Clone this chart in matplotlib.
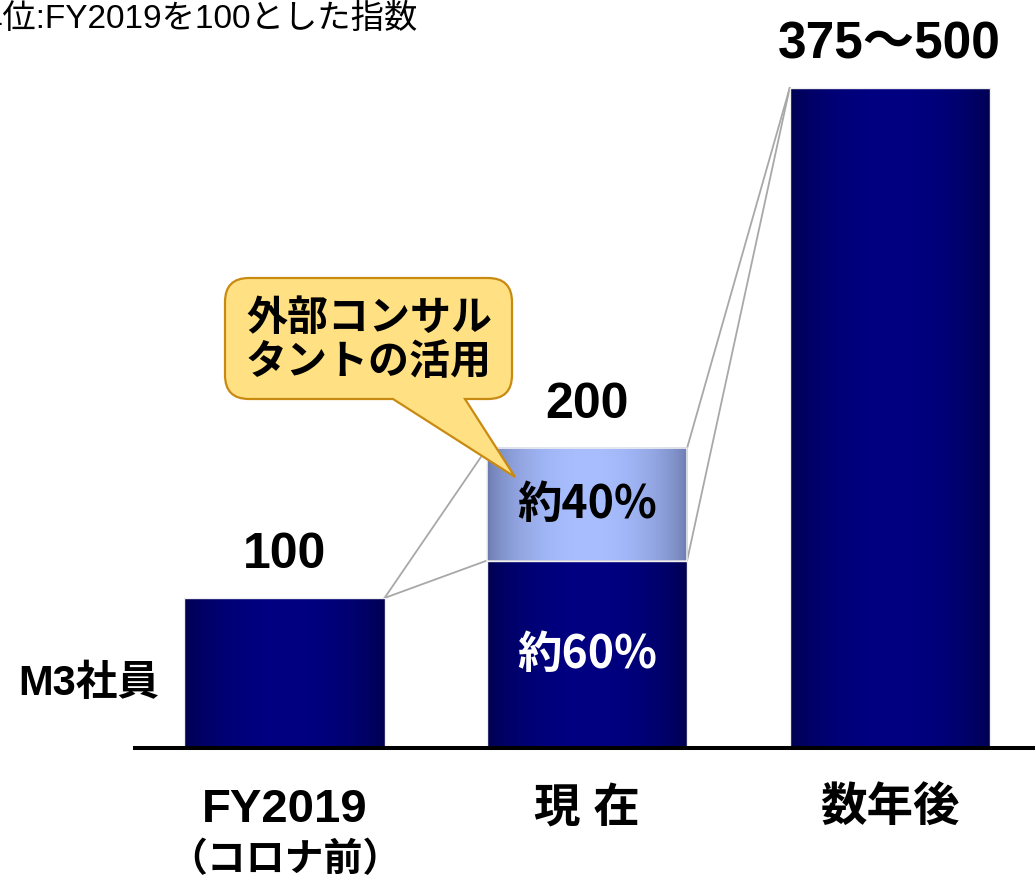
import numpy as np
import matplotlib
matplotlib.use('Agg')
import matplotlib.pyplot as plt
from matplotlib.path import Path
from matplotlib.patches import PathPatch

plt.rcParams['font.family'] = ['Liberation Sans', 'Noto Sans CJK JP']

# ---- data ----
categories = ['FY2019', '現 在', '数年後']
sub_label = '（コロナ前）'
m3_staff = [100, 125, 440]
consultants = [0, 75, 0]
value_labels = ['100', '200', '375～500']
share_labels = ['約60%', '約40%']
callout_lines = ['外部コンサル', 'タントの活用']
unit_note = '単位:FY2019を100とした指数'
row_label = 'M3社員'

W, H = 1035, 878
fig = plt.figure(figsize=(W / 100, H / 100), dpi=100)
ax = fig.add_axes([0, 0, 1, 1])
ax.axis('off')

x = np.arange(len(categories))
bw = 0.661
tot = [a + b for a, b in zip(m3_staff, consultants)]

dark_edge = np.array([0x00, 0x00, 0x4c]) / 255
dark_center = np.array([0x00, 0x00, 0x82]) / 255
light_edge = np.array([0x68, 0x76, 0xa8]) / 255
light_center = np.array([0xa8, 0xbe, 0xff]) / 255


def gradient(patch, edge, center):
    bx, by = patch.get_x(), patch.get_y()
    w, h = patch.get_width(), patch.get_height()
    t = np.linspace(0, 1, 300)
    f = np.sin(np.pi * t) ** 0.6
    cols = edge[None, :] + (center - edge)[None, :] * f[:, None]
    ax.imshow(cols[None, :, :], extent=[bx, bx + w, by, by + h], aspect='auto',
              interpolation='bilinear', zorder=2)


lower = ax.bar(x, m3_staff, bw, facecolor='none', edgecolor='#f0f0f0', linewidth=1.0, zorder=3)
for p in lower:
    gradient(p, dark_edge, dark_center)

for i, c in enumerate(consultants):
    if c > 0:
        up = ax.bar(x[i], c, bw, bottom=m3_staff[i], facecolor='none', edgecolor='#f0f0f0',
                    linewidth=1.2, zorder=3)
        gradient(up[0], light_edge, light_center)

# connector lines
lc = '#a8a8a8'
ax.plot([x[0] + bw / 2, x[1] - bw / 2], [tot[0], tot[1]], color=lc, lw=1.3, zorder=1)
ax.plot([x[0] + bw / 2, x[1] - bw / 2], [tot[0], m3_staff[1]], color=lc, lw=1.3, zorder=1)
ax.plot([x[1] + bw / 2, x[2] - bw / 2], [tot[1], tot[2]], color=lc, lw=1.3, zorder=1)
ax.plot([x[1] + bw / 2, x[2] - bw / 2], [m3_staff[1], tot[2]], color=lc, lw=1.3, zorder=1)

# baseline
x_left = (133 - 284.5) / 302.6
ax.plot([x_left, 3], [0, 0], color='black', lw=2.9, zorder=4, solid_capstyle='butt')

# value labels
for i in range(len(categories)):
    ax.annotate(value_labels[i], (x[i], tot[i]), xytext=(0, 22), textcoords='offset points',
                ha='center', va='baseline', fontsize=37 if i == 2 else 36,
                fontweight='bold', zorder=5)

# share labels
ax.text(x[1], m3_staff[1] / 2, share_labels[0], ha='center', va='center', color='white',
        fontsize=32, fontweight='bold', family=['Noto Sans CJK JP'], zorder=5)
ax.text(x[1], m3_staff[1] + consultants[1] / 2, share_labels[1], ha='center', va='center',
        color='black', fontsize=32, fontweight='bold', family=['Noto Sans CJK JP'], zorder=5)

# category labels
for i, c in enumerate(categories):
    ax.text(x[i], -48.7, c, ha='center', va='baseline', fontsize=34 if i == 0 else 33.5,
            fontweight='bold', zorder=5)
ax.text(x[0], -81.5, sub_label, ha='center', va='baseline', fontsize=28, fontweight='bold',
        family=['Noto Sans CJK JP'], zorder=5)

ax.set_xlim(-284.5 / 302.6, (1035 - 284.5) / 302.6)
ax.set_ylim(-129 / 1.5, (878 - 129) / 1.5)

# notes
fig.text(418 / W, (H - 28) / H, unit_note, ha='right', va='baseline', fontsize=24)
fig.text(18 / W, (H - 695) / H, row_label, ha='left', va='baseline', fontsize=30,
         fontweight='bold')

# callout overlay (pixel coordinates)
ov = fig.add_axes([0, 0, 1, 1], zorder=10)
ov.set_xlim(0, W)
ov.set_ylim(H, 0)
ov.axis('off')
x0, x1, y0, y1, r = 225, 512, 279, 400, 24
tail_r, tail_l, tip = 465, 393, (515, 478)
verts = [
    (x0 + r, y0), (x1 - r, y0), (x1, y0), (x1, y0 + r), (x1, y1 - r), (x1, y1), (x1 - r, y1),
    (tail_r, y1), tip, (tail_l, y1), (x0 + r, y1), (x0, y1), (x0, y1 - r), (x0, y0 + r),
    (x0, y0), (x0 + r, y0), (x0 + r, y0)]
codes = [Path.MOVETO, Path.LINETO, Path.CURVE3, Path.CURVE3, Path.LINETO, Path.CURVE3,
         Path.CURVE3, Path.LINETO, Path.LINETO, Path.LINETO, Path.LINETO, Path.CURVE3,
         Path.CURVE3, Path.LINETO, Path.CURVE3, Path.CURVE3, Path.CLOSEPOLY]
ov.add_patch(PathPatch(Path(verts, codes), facecolor='#ffe183', edgecolor='#c98a12',
                       lw=1.6, joinstyle='miter'))
ov.text(246, 318, callout_lines[0], ha='left', va='center', fontsize=29.5, fontweight='bold',
        family=['Noto Sans CJK JP'])
ov.text(246, 362, callout_lines[1], ha='left', va='center', fontsize=29.5, fontweight='bold',
        family=['Noto Sans CJK JP'])

fig.savefig('out.png', dpi=100)
